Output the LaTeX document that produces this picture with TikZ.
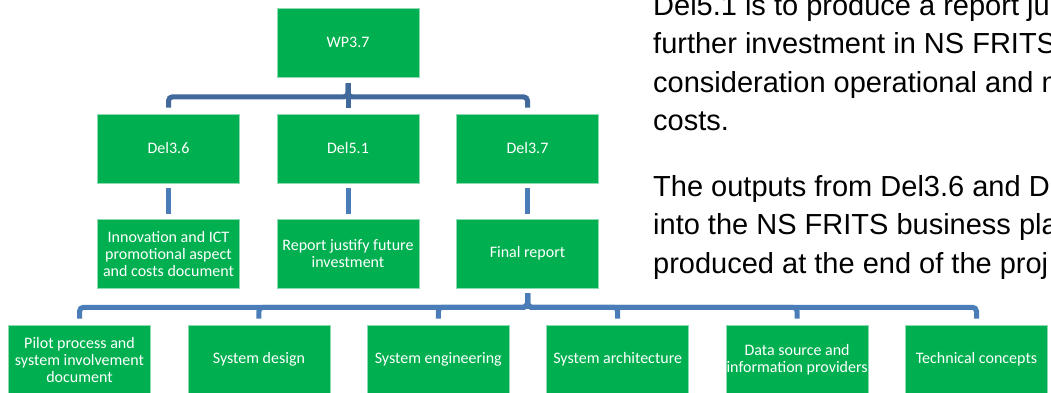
\documentclass[tikz,border=0pt]{standalone}
\usepackage{fontspec}
\newfontfamily\boxfont{Carlito}
\newfontfamily\parafont{Liberation Sans}
\usepackage{tikz}
\usetikzlibrary{calc}
\definecolor{boxgreen}{HTML}{00B050}
\definecolor{linkdark}{HTML}{41699B}
\definecolor{linkblue}{HTML}{4A7CB8}
\tikzset{
  wbox/.style={rectangle, fill=boxgreen, draw=boxgreen!45!white, line width=0.6pt,
    minimum width=142pt, minimum height=69pt, inner sep=0pt, align=center,
    text=white, font={\boxfont\fontsize{16}{17}\selectfont}},
  link/.style={line width=5pt, linkblue, rounded corners=4pt},
  paraline/.style={anchor=base west, inner sep=0pt, text=black,
    font={\parafont\fontsize{29}{38.5}\selectfont}}
}

\begin{document}
\begin{tikzpicture}[x=1pt, y=-1pt]
\useasboundingbox (0,0) rectangle (1051,392);
\fill[white] (0,0) rectangle (1051,392);

%% === Work package ===
\node[wbox] (wp) at (348,42.5) {WP3.7};

%% === Deliverables ===
\node[wbox] (del36) at (168.5,148.5) {Del3.6};
\node[wbox] (del51) at (348,148.5) {Del5.1};
\node[wbox] (del37) at (527.5,148.5) {Del3.7};

%% === Outputs ===
\node[wbox] (inno) at (168.5,253.5) {Innovation and ICT\\promotional aspect\\and costs document};
\node[wbox] (report) at (348,253.5) {Report justify future\\investment};
\node[wbox] (final) at (527.5,253.5) {Final report};

%% === Parts of the final report ===
\foreach \lbl [count=\i] in {{Pilot process and\\system involvement\\document}, System design,
    System engineering, System architecture, {Data source and\\information providers},
    Technical concepts} {
  \node[wbox] (part\i) at ({79.5+(\i-1)*179.4},359.5) {\lbl};
}

%% === Connectors ===
% work package to deliverables
\foreach \d in {del36,del51,del37} {
  \draw[link, linkdark, shorten <=6pt, shorten >=6pt] (wp.south) -- ++(0,19.5) -| (\d.north);
}
% deliverables to outputs
\foreach \a/\b in {del36/inno, del51/report, del37/final} {
  \draw[link, shorten <=5pt, shorten >=5pt] (\a) -- (\b);
}
% final report to its parts
\foreach \i in {1,...,6} {
  \draw[link, shorten <=5pt, shorten >=6pt] (final.south) -- ++(0,19) -| (part\i.north);
}

%% === Text on the right ===
\foreach \txt/\yy [count=\k] in {Del5.1 is to produce a report ju/15,
    further investment in NS FRITS/53.5, consideration operational and m/92,
    costs./130.5, The outputs from Del3.6 and D/196,
    into the NS FRITS business pla/234.5, produced at the end of the proj/273} {
  \node[paraline] (line\k) at (653,\yy) {\txt};
}

\end{tikzpicture}
\end{document}
